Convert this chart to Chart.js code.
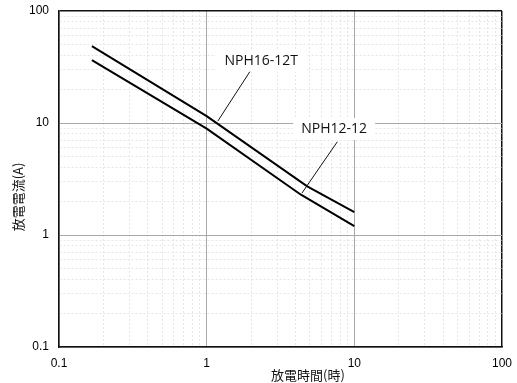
<!DOCTYPE html>
<html>
<head>
<meta charset="utf-8">
<script src="https://cdn.jsdelivr.net/npm/chart.js@4"></script>
<style>
  html, body { margin: 0; padding: 0; background: #fff; }
  canvas { display: block; }
</style>
</head>
<body>
<canvas id="chart" width="517" height="383"></canvas>
<script>
// discharge time (h) vs discharge current (A)
const timeNPH16 = [0.167, 1, 4.8, 10];
const currentNPH16 = [48.5, 11.5, 2.72, 1.6];
const timeNPH12 = [0.167, 1, 4.35, 10];
const currentNPH12 = [36.5, 8.9, 2.29, 1.2];

const decades = [0.1, 1, 10, 100];
const minorSteps = [1, 2, 3, 4, 5, 6, 7, 8, 9];

const seriesNames = ['NPH16-12T', 'NPH12-12'];
// label text centre and leader line ends, in data units
const labelPos = [[2.34, 35.8], [7.3, 8.84]];
const leaderFrom = [[1.96, 28.7], [7.67, 6.8]];
const leaderTo = [[1.19, 10.4], [4.42, 2.37]];

const xTitle = '放電時間(時)';
const yTitle = '放電電流(A)';

function toPoints(xs, ys) {
    return xs.map((x, i) => ({ x: x, y: ys[i] }));
}

// every 1..9 step of each decade, up to the last decade
function allTicks() {
    const out = [];
    decades.forEach((d, i) => {
        if (i === decades.length - 1) {
            out.push({ value: d });
            return;
        }
        minorSteps.forEach(m => out.push({ value: +(d * m).toPrecision(3) }));
    });
    return out;
}

function isDecade(v) {
    return decades.some(d => Math.abs(d - v) < 1e-9);
}

function gridColor(ctx) {
    const v = ctx.tick ? ctx.tick.value : 0;
    if (v === 100) return '#111';
    return isDecade(v) ? '#a8a8a8' : '#e6e6e6';
}
function gridWidth(ctx) {
    const v = ctx.tick ? ctx.tick.value : 0;
    return v === 100 ? 1.5 : 1;
}
function gridDash(ctx) {
    const v = ctx.tick ? ctx.tick.value : 0;
    return isDecade(v) ? [] : [2, 2];
}

const tickFont = { family: 'Liberation Sans, Arial, sans-serif', size: 12 };

function axisOptions(isX) {
    return {
        type: 'logarithmic',
        min: 0.1,
        max: 100,
        afterBuildTicks: scale => { scale.ticks = allTicks(); },
        afterFit: scale => {
            if (isX) scale.height = 36;
            else scale.width = 59;
            // keep edge labels from pushing the plot area inwards
            scale.paddingTop = 0;
            scale.paddingBottom = 0;
            scale.paddingLeft = 0;
            scale.paddingRight = 0;
        },
        grid: {
            color: gridColor,
            lineWidth: gridWidth,
            drawTicks: false
        },
        border: {
            color: '#111',
            width: 1.5,
            dash: gridDash
        },
        ticks: {
            autoSkip: false,
            maxRotation: 0,
            padding: isX ? 9 : 10,
            color: '#000',
            font: tickFont,
            callback: v => isDecade(v) ? String(v) : ''
        }
    };
}

// series labels with white boxes and leader lines, plus axis titles
const labelsPlugin = {
    id: 'seriesLabels',
    afterDatasetsDraw(chart) {
        const c = chart.ctx;
        const xs = chart.scales.x;
        const ys = chart.scales.y;
        c.save();
        c.font = '14px "Open Sans", sans-serif';
        c.textAlign = 'center';
        c.textBaseline = 'middle';
        seriesNames.forEach((name, i) => {
            const px = xs.getPixelForValue(labelPos[i][0]);
            const py = ys.getPixelForValue(labelPos[i][1]);
            const w = c.measureText(name).width;
            c.fillStyle = '#fff';
            c.fillRect(px - w / 2 - 8, py - 11, w + 16, 22);
            c.fillStyle = '#111';
            c.fillText(name, px, py);

            c.beginPath();
            c.strokeStyle = '#111';
            c.lineWidth = 1;
            c.moveTo(xs.getPixelForValue(leaderFrom[i][0]), ys.getPixelForValue(leaderFrom[i][1]));
            c.lineTo(xs.getPixelForValue(leaderTo[i][0]), ys.getPixelForValue(leaderTo[i][1]));
            c.stroke();
        });

        // axis titles
        c.font = '13px "Noto Sans CJK JP", sans-serif';
        c.fillStyle = '#111';
        c.fillText(xTitle, 308, 375);
        c.translate(18, 197);
        c.rotate(-Math.PI / 2);
        c.fillText(yTitle, 0, 0);
        c.restore();
    }
};

new Chart(document.getElementById('chart'), {
    type: 'scatter',
    data: {
        datasets: [
            {
                label: seriesNames[0],
                data: toPoints(timeNPH16, currentNPH16),
                showLine: true,
                borderColor: '#000',
                borderWidth: 2,
                pointRadius: 0,
                tension: 0
            },
            {
                label: seriesNames[1],
                data: toPoints(timeNPH12, currentNPH12),
                showLine: true,
                borderColor: '#000',
                borderWidth: 2,
                pointRadius: 0,
                tension: 0
            }
        ]
    },
    options: {
        responsive: false,
        animation: false,
        devicePixelRatio: 1,
        layout: {
            autoPadding: false,
            padding: { top: 11, right: 15, left: 0, bottom: 0 }
        },
        plugins: {
            legend: { display: false },
            tooltip: { enabled: false }
        },
        scales: {
            x: axisOptions(true),
            y: axisOptions(false)
        }
    },
    plugins: [labelsPlugin]
});
</script>
</body>
</html>
